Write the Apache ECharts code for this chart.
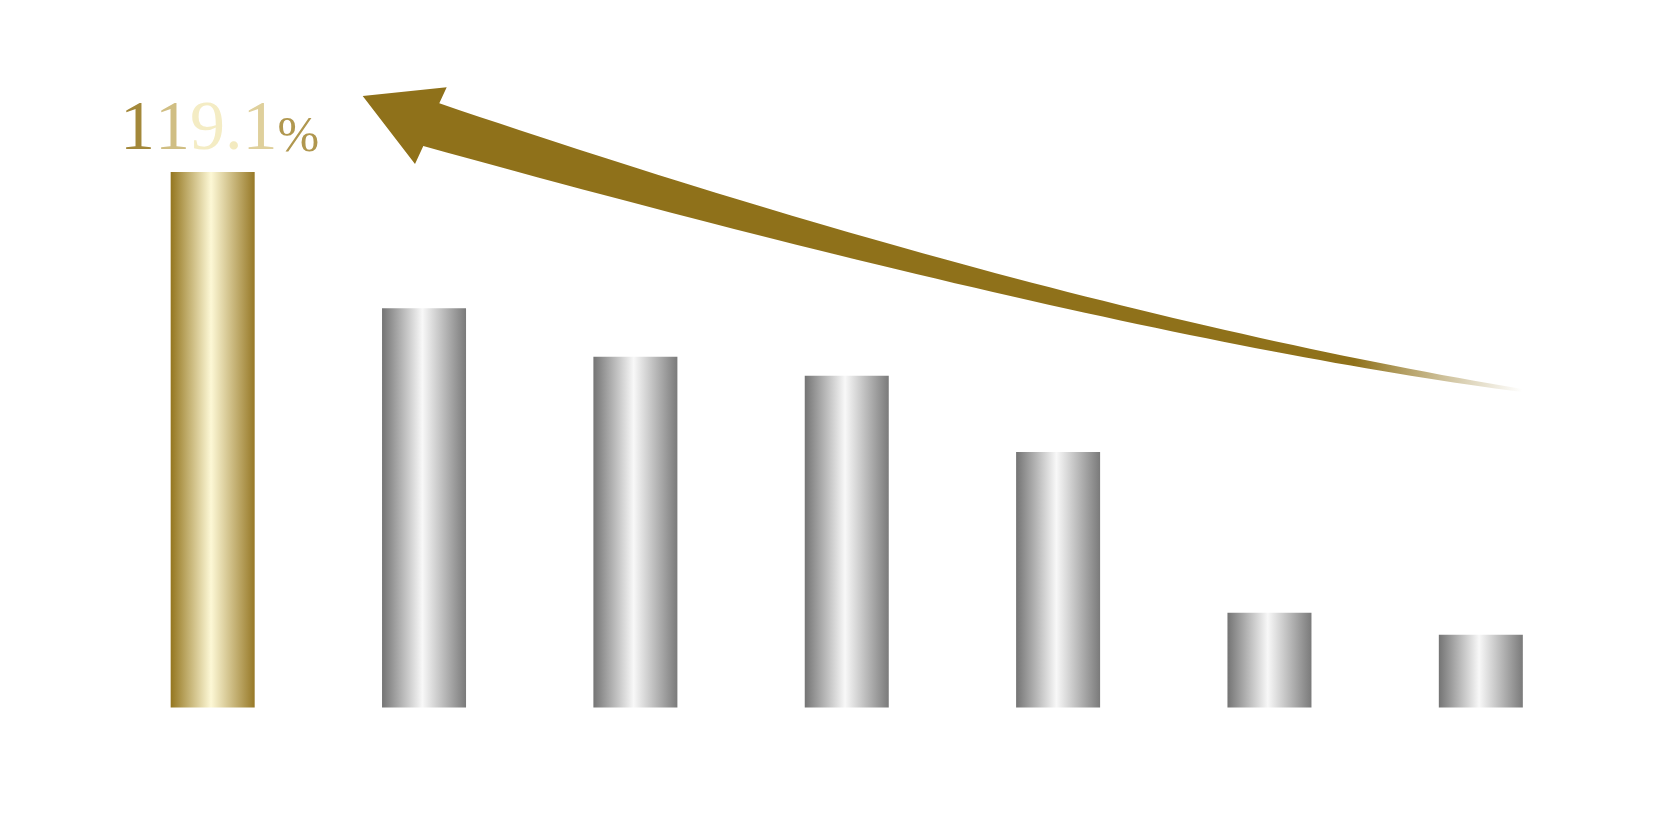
<!DOCTYPE html>
<html>
<head>
<meta charset="utf-8">
<script src="https://cdn.jsdelivr.net/npm/echarts@6/dist/echarts.min.js"></script>
<style>html,body{margin:0;padding:0;background:#fff;}#c{width:1656px;height:816px;}</style>
</head>
<body>
<div id="c"></div>
<script>
const categories = ['1', '2', '3', '4', '5', '6', '7'];
const values = [119.1, 88.8, 78.0, 73.8, 56.8, 21.1, 16.2];
const highlightIndex = 0;

const LG = echarts.graphic.LinearGradient;
const goldBar = new LG(0, 0, 1, 0, [
  {offset:0, color:'#94761f'}, {offset:0.48, color:'#fdf8d6'}, {offset:1, color:'#977927'}]);
const grayBar = new LG(0, 0, 1, 0, [
  {offset:0, color:'#747474'}, {offset:0.48, color:'#f8f8f8'}, {offset:1, color:'#7a7a7a'}]);
// metallic gold shading of the label, one tone per glyph
const glyphColors = ['#a3883a', '#d0be83', '#f4ecc4', '#f3eac0', '#dfd09c', '#b0974f'];

// decorative arrow outline (pixel space)
function quad(p0, c, p1, n) {
  const pts = [];
  for (let i = 0; i <= n; i++) {
    const t = i / n, u = 1 - t;
    pts.push([u*u*p0[0] + 2*u*t*c[0] + t*t*p1[0], u*u*p0[1] + 2*u*t*c[1] + t*t*p1[1]]);
  }
  return pts;
}
const arrowPts = [[362.7, 96], [446.7, 87.3]]
  .concat(quad([439.3, 103.3], [1047, 309.7], [1522, 389], 60))
  .concat(quad([1522, 392], [1124.5, 340.3], [423.3, 146], 60))
  .concat([[415, 164]]);

function buildLabel(v) {
  const chars = (v.toFixed(1) + '%').split('');
  const rich = {};
  const parts = chars.map((ch, k) => {
    const isPct = ch === '%';
    rich['g' + k] = {
      fontFamily: 'Liberation Serif', fontSize: isPct ? 50 : 70,
      color: glyphColors[k % glyphColors.length],
      verticalAlign: 'bottom', lineHeight: 70,
      padding: isPct ? [0, 0, 3, 0] : 0
    };
    return '{g' + k + '|' + ch + '}';
  });
  return {formatter: parts.join(''), rich: rich};
}

const chart = echarts.init(document.getElementById('c'));
chart.setOption({
  backgroundColor: '#ffffff',
  animation: false,
  grid: {left: 107, right: 69.5, top: 172, bottom: 108.5},
  xAxis: {type:'category', data: categories, show: false},
  yAxis: {type:'value', min: 0, max: 119.1, show: false},
  graphic: [{
    type: 'polygon',
    shape: {points: arrowPts},
    style: {fill: new LG(0, 0, 1, 0, [
      {offset:0, color:'#8f711a'}, {offset:0.855, color:'#8f711a'}, {offset:1, color:'rgba(255,255,255,0.9)'}])},
    z: 10
  }],
  series: [{
    type: 'bar',
    barWidth: 84,
    data: values.map((v, i) => {
      const item = {value: v, itemStyle: {color: i === highlightIndex ? goldBar : grayBar}};
      if (i === highlightIndex) {
        const lb = buildLabel(v);
        item.label = {show: true, position: 'top', distance: 6, offset: [7, 0], formatter: lb.formatter, rich: lb.rich};
      } else {
        item.label = {show: false};
      }
      return item;
    })
  }]
});
</script>
</body>
</html>
